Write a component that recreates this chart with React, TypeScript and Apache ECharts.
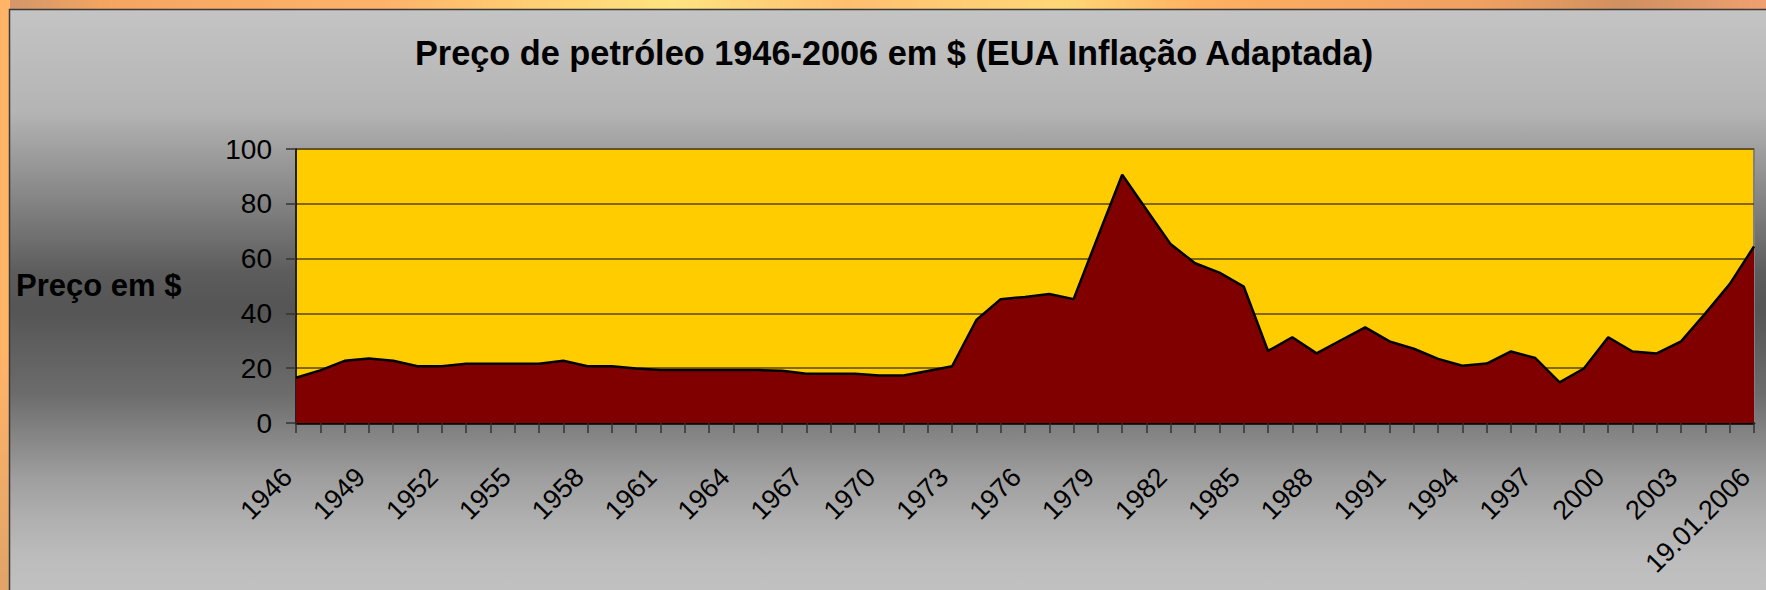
import React, { useEffect, useRef } from "react";
import * as echarts from "echarts";

const TITLE = "Preço de petróleo 1946-2006 em $ (EUA Inflação Adaptada)";
const Y_NAME = "Preço em $";

const categories: string[] = [
  "1946", "1947", "1948", "1949", "1950", "1951", "1952", "1953", "1954", "1955",
  "1956", "1957", "1958", "1959", "1960", "1961", "1962", "1963", "1964", "1965",
  "1966", "1967", "1968", "1969", "1970", "1971", "1972", "1973", "1974", "1975",
  "1976", "1977", "1978", "1979", "1980", "1981", "1982", "1983", "1984", "1985",
  "1986", "1987", "1988", "1989", "1990", "1991", "1992", "1993", "1994", "1995",
  "1996", "1997", "1998", "1999", "2000", "2001", "2002", "2003", "2004", "2005",
  "19.01.2006",
];

const prices: number[] = [
  16.5, 19.2, 22.7, 23.5, 22.7, 20.7, 20.7, 21.6, 21.6, 21.6,
  21.6, 22.7, 20.7, 20.7, 19.9, 19.3, 19.3, 19.3, 19.3, 19.3,
  19.1, 18.0, 18.0, 18.0, 17.3, 17.3, 19.0, 20.7, 37.6, 45.2,
  46.0, 47.1, 45.2, 68.0, 90.6, 77.8, 65.2, 58.3, 54.9, 49.8,
  26.3, 31.3, 25.4, 30.2, 34.9, 29.8, 27.1, 23.4, 20.9, 21.7,
  26.1, 23.7, 14.8, 19.9, 31.3, 26.1, 25.4, 29.8, 40.0, 50.7,
  64.4,
];

const yTicks = { min: 0, max: 100, interval: 20 };

const FONT = "'Liberation Sans', Arial, sans-serif";

export default function App() {
  const ref = useRef<HTMLDivElement>(null);

  useEffect(() => {
    if (!ref.current) return;
    const chart = echarts.init(ref.current, null, { renderer: "svg" });

    const orange = new echarts.graphic.LinearGradient(0, 0, 1, 0, [
      { offset: 0, color: "#d0956a" },
      { offset: 0.06, color: "#f5a560" },
      { offset: 0.22, color: "#ffb36a" },
      { offset: 0.3, color: "#ffcf72" },
      { offset: 0.38, color: "#ffe480" },
      { offset: 0.48, color: "#ffbf70" },
      { offset: 0.6, color: "#ffd876" },
      { offset: 0.68, color: "#ffb060" },
      { offset: 0.84, color: "#f0a060" },
      { offset: 0.92, color: "#d09060" },
      { offset: 1, color: "#f0a070" },
    ]);
    const leftStrip = new echarts.graphic.LinearGradient(0, 0, 0, 1, [
      { offset: 0, color: "#ffb468" },
      { offset: 0.6, color: "#ffb468" },
      { offset: 1, color: "#e0a468" },
    ]);
    const gray = new echarts.graphic.LinearGradient(0, 0, 0, 1, [
      { offset: 0, color: "#c4c4c4" },
      { offset: 0.17, color: "#b4b4b4" },
      { offset: 0.3, color: "#8a8a8a" },
      { offset: 0.44, color: "#5c5c5c" },
      { offset: 0.5, color: "#555555" },
      { offset: 0.64, color: "#6c6c6c" },
      { offset: 0.71, color: "#858585" },
      { offset: 0.78, color: "#9e9e9e" },
      { offset: 0.85, color: "#b0b0b0" },
      { offset: 0.92, color: "#bdbdbd" },
      { offset: 1, color: "#c2c2c2" },
    ]);

    chart.setOption({
      animation: false,
      backgroundColor: orange,
      graphic: [
        {
          type: "rect",
          z: -5,
          silent: true,
          shape: { x: 0, y: 0, width: 10, height: 590 },
          style: { fill: leftStrip },
        },
        {
          type: "rect",
          z: -4,
          silent: true,
          shape: { x: 9.5, y: 9.5, width: 1780, height: 600 },
          style: { fill: gray, stroke: "#3a3a3a", lineWidth: 1.5 },
        },
        {
          type: "text",
          z: 5,
          x: 894,
          y: 53,
          style: {
            text: TITLE,
            fontFamily: FONT,
            fontWeight: "bold",
            fontSize: 34.3,
            fill: "#000",
            align: "center",
            verticalAlign: "middle",
          },
        },
        {
          type: "text",
          z: 5,
          x: 16,
          y: 285,
          style: {
            text: Y_NAME,
            fontFamily: FONT,
            fontWeight: "bold",
            fontSize: 31,
            fill: "#000",
            align: "left",
            verticalAlign: "middle",
          },
        },
      ],
      grid: {
        left: 296,
        right: 12,
        top: 149,
        bottom: 167,
        show: true,
        backgroundColor: "#FFCC00",
        borderColor: "#808080",
        borderWidth: 2,
      },
      xAxis: {
        type: "category",
        data: categories,
        boundaryGap: false,
        axisLine: { show: true, lineStyle: { color: "#000", width: 2.5 } },
        axisTick: {
          show: true,
          interval: 0,
          length: 10,
          lineStyle: { color: "#333", width: 1.5 },
        },
        axisLabel: {
          interval: 2,
          rotate: 45,
          fontSize: 27,
          fontFamily: FONT,
          color: "#000",
          margin: 41,
          padding: [0, 12, 0, 0],
        },
        splitLine: { show: false },
      },
      yAxis: {
        type: "value",
        min: yTicks.min,
        max: yTicks.max,
        interval: yTicks.interval,
        axisLine: { show: true, lineStyle: { color: "#000", width: 1.5 } },
        axisTick: { show: true, length: 10, lineStyle: { color: "#333", width: 1.5 } },
        axisLabel: {
          fontSize: 28,
          fontFamily: FONT,
          color: "#000",
          margin: 24,
        },
        splitLine: { show: true, lineStyle: { color: "#5a4600", width: 1.5 } },
      },
      series: [
        {
          type: "line",
          data: prices,
          symbol: "none",
          lineStyle: { color: "#000", width: 2.5 },
          areaStyle: { color: "#800000", opacity: 1 },
          itemStyle: { color: "#800000" },
        },
      ],
    });

    return () => chart.dispose();
  }, []);

  return (
    <div
      ref={ref}
      style={{ position: "absolute", left: 0, top: 0, width: 1766, height: 590 }}
    />
  );
}
